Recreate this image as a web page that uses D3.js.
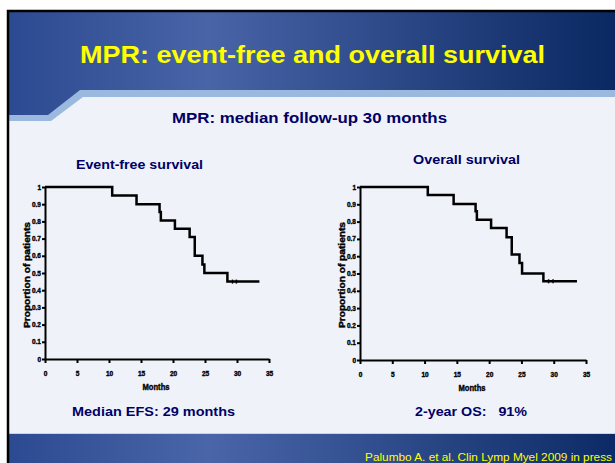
<!DOCTYPE html>
<html>
<head>
<meta charset="utf-8">
<script src="https://cdn.jsdelivr.net/npm/d3@7"></script>
<style>
  body { margin: 0; background: #fff; }
  svg { display: block; font-family: "Liberation Sans", Arial, sans-serif; }
  .pre { white-space: pre; }
</style>
</head>
<body>
<svg width="615" height="463"></svg>
<script>
// event-free survival (months, proportion)
var efsMonths = [0, 10.5, 14.3, 17.9, 18.1, 20.3, 22.6, 23.4, 24.6, 24.9, 28.5, 33.5];
var efsSurv = [1, 0.95, 0.90, 0.855, 0.805, 0.757, 0.709, 0.60, 0.55, 0.50, 0.45, 0.45];
var efsCensor = [29.3, 29.9];

// overall survival
var osMonths = [0, 10.5, 14.5, 17.9, 18.1, 20.3, 22.7, 23.5, 24.7, 25.1, 28.4, 33.6];
var osSurv = [1, 0.954, 0.902, 0.86, 0.81, 0.763, 0.71, 0.61, 0.56, 0.50, 0.455, 0.455];
var osCensor = [29.2, 29.9];

var xTicks = [0, 5, 10, 15, 20, 25, 30, 35];
var yTicks = [0, 0.1, 0.2, 0.3, 0.4, 0.5, 0.6, 0.7, 0.8, 0.9, 1];
var yTickLabels = ["0", "0.1", "0.2", "0.3", "0.4", "0.5", "0.6", "0.7", "0.8", "0.9", "1"];

var svg = d3.select("svg");
var defs = svg.append("defs");

var hg = defs.append("linearGradient").attr("id", "hdr");
hg.append("stop").attr("offset", "0%").attr("stop-color", "#2c4a91");
hg.append("stop").attr("offset", "33%").attr("stop-color", "#4964a7");
hg.append("stop").attr("offset", "100%").attr("stop-color", "#0a2862");

var fg = defs.append("linearGradient").attr("id", "ftr");
fg.append("stop").attr("offset", "0%").attr("stop-color", "#2c4a91");
fg.append("stop").attr("offset", "33%").attr("stop-color", "#4a66a9");
fg.append("stop").attr("offset", "100%").attr("stop-color", "#0c2b66");

// slide background
svg.append("rect").attr("x", 8).attr("y", 11).attr("width", 607).attr("height", 452)
    .attr("fill", "#eff2f8");

// header with light band under it
svg.append("path")
    .attr("d", "M8,11 H615 V97 H83 L51,121 H8 Z")
    .attr("fill", "#9bb9df");
svg.append("path")
    .attr("d", "M8,11 H615 V90 H80 L48,115 H8 Z")
    .attr("fill", "url(#hdr)");

// footer
svg.append("rect").attr("x", 8).attr("y", 433).attr("width", 607).attr("height", 30)
    .attr("fill", "url(#ftr)");
svg.append("line").attr("x1", 8).attr("x2", 615).attr("y1", 433.5).attr("y2", 433.5)
    .attr("stroke", "#c8d3e6").attr("stroke-width", 1);

// slide border
svg.append("path").attr("d", "M8,463 V11 H615")
    .attr("fill", "none").attr("stroke", "#000").attr("stroke-width", 2.5);

function label(x, y, txt, size, color, len, anchor) {
    var t = svg.append("text").attr("x", x).attr("y", y)
        .attr("font-size", size + "px").attr("font-weight", "bold").attr("fill", color)
        .attr("class", "pre").text(txt);
    if (len) t.attr("textLength", len).attr("lengthAdjust", "spacingAndGlyphs");
    if (anchor) t.attr("text-anchor", anchor);
    return t;
}

label(80, 63, "MPR: event-free and overall survival", 24, "#ffff00", 465);
label(172, 123, "MPR: median follow-up 30 months", 14, "#000066", 275);

svg.append("text").attr("x", 365).attr("y", 461)
    .attr("font-size", "11.5px").attr("fill", "#ffff00")
    .attr("textLength", 247).attr("lengthAdjust", "spacingAndGlyphs")
    .text("Palumbo A. et al. Clin Lymp Myel 2009 in press");

function drawChart(opt) {
    var x = d3.scaleLinear().domain([0, 35]).range([opt.x0, opt.x1]);
    var y = d3.scaleLinear().domain([0, 1]).range([opt.y0, opt.y1]);
    var g = svg.append("g");

    label(opt.titleX, opt.titleY, opt.title, 12.5, "#000066", opt.titleLen);

    var xAxis = g.append("g").attr("transform", "translate(0," + opt.y0 + ")")
        .call(d3.axisBottom(x).tickValues(xTicks).tickSize(4).tickSizeOuter(0));
    var yAxis = g.append("g").attr("transform", "translate(" + opt.x0 + ",0)")
        .call(d3.axisLeft(y).tickValues(yTicks).tickSize(3).tickSizeOuter(0)
            .tickFormat(function (d, i) { return yTickLabels[i]; }));

    [xAxis, yAxis].forEach(function (a) {
        a.select(".domain").attr("stroke", "#000").attr("stroke-width", 2);
        a.selectAll(".tick line").attr("stroke", "#000").attr("stroke-width", 2);
        a.selectAll(".tick text").attr("fill", "#000").attr("font-size", "6.5px")
            .attr("font-weight", "bold").attr("stroke", "#000").attr("stroke-width", 0.35)
            .attr("font-family", "'Liberation Sans', Arial, sans-serif");
    });
    xAxis.selectAll(".tick text").attr("y", 17).attr("dy", 0);
    yAxis.selectAll(".tick text").attr("x", -4);

    g.append("text").attr("x", (opt.x0 + opt.x1) / 2 - 1).attr("y", opt.y0 + 31)
        .attr("text-anchor", "middle").attr("font-size", "9px").attr("font-weight", "bold")
        .attr("stroke", "#000").attr("stroke-width", 0.4)
        .attr("textLength", 27).attr("lengthAdjust", "spacingAndGlyphs")
        .text("Months");
    g.append("text")
        .attr("transform", "translate(" + (opt.x0 - 15.5) + ",275) rotate(-90)")
        .attr("text-anchor", "middle").attr("font-size", "9px").attr("font-weight", "bold")
        .attr("stroke", "#000").attr("stroke-width", 0.4)
        .attr("textLength", 106).attr("lengthAdjust", "spacingAndGlyphs")
        .text("Proportion of patients");

    var pts = opt.months.map(function (m, i) { return [m, opt.surv[i]]; });
    var line = d3.line().x(function (d) { return x(d[0]); }).y(function (d) { return y(d[1]); })
        .curve(d3.curveStepAfter);
    g.append("path").datum(pts).attr("d", line)
        .attr("fill", "none").attr("stroke", "#000").attr("stroke-width", 2.5);

    var last = opt.surv[opt.surv.length - 1];
    g.selectAll(".cens").data(opt.censor).enter().append("line")
        .attr("x1", function (d) { return x(d); }).attr("x2", function (d) { return x(d); })
        .attr("y1", y(last) - 2).attr("y2", y(last) + 2)
        .attr("stroke", "#000").attr("stroke-width", 1.5);

    label(opt.noteX, 416, opt.note, 13, "#000066", opt.noteLen);
}

drawChart({
    x0: 45, x1: 269, y0: 359, y1: 187,
    months: efsMonths, surv: efsSurv, censor: efsCensor,
    title: "Event-free survival", titleX: 76, titleY: 169, titleLen: 127,
    note: "Median EFS: 29 months", noteX: 72, noteLen: 163
});

drawChart({
    x0: 360, x1: 586, y0: 360, y1: 187,
    months: osMonths, surv: osSurv, censor: osCensor,
    title: "Overall survival", titleX: 413, titleY: 164, titleLen: 107,
    note: "2-year OS:   91%", noteX: 415, noteLen: 112
});
</script>
</body>
</html>
